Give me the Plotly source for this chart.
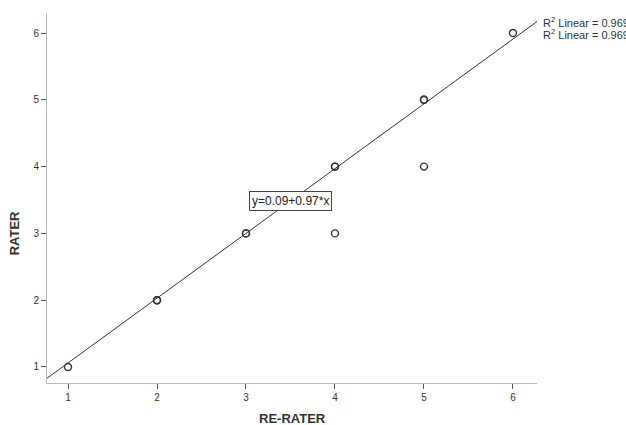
import plotly.graph_objects as go

# Data (points; duplicates represent overlapping observations)
re_rater = [1, 2, 2, 3, 3, 4, 4, 4, 5, 5, 5, 6]
rater    = [1, 2, 2, 3, 3, 4, 4, 3, 5, 5, 4, 6]

intercept = 0.09
slope = 0.97
r2_text = "R<sup>2</sup> Linear = 0.969"
eq_text = "y=0.09+0.97*x"
x_title = "RE-RATER"
y_title = "RATER"

x_range = [0.764, 6.27]
y_range = [0.76, 6.3]
x_ticks = [1, 2, 3, 4, 5, 6]
y_ticks = [1, 2, 3, 4, 5, 6]

line_x = [x_range[0], x_range[1]]
line_y = [intercept + slope * v for v in line_x]

fig = go.Figure()
fig.add_trace(go.Scatter(
    x=line_x, y=line_y, mode="lines",
    line=dict(color="#333333", width=1), showlegend=False, hoverinfo="skip"))
fig.add_trace(go.Scatter(
    x=re_rater, y=rater, mode="markers",
    marker=dict(symbol="circle-open", size=7, color="#333333", line=dict(width=1.4)),
    showlegend=False))

fig.add_annotation(x=3.5, y=3.48, xref="x", yref="y", text=eq_text, showarrow=False,
                   font=dict(family="Liberation Sans, Arial", size=12, color="#222222"),
                   bordercolor="#444444", borderwidth=1, borderpad=2, bgcolor="white")
fig.add_annotation(x=1.008, y=6.16, xref="paper", yref="y", text=r2_text, showarrow=False,
                   xanchor="left", font=dict(family="Liberation Sans, Arial", size=11, color="#333333"))
fig.add_annotation(x=1.008, y=5.99, xref="paper", yref="y", text=r2_text, showarrow=False,
                   xanchor="left", font=dict(family="Liberation Sans, Arial", size=11, color="#333333"))
fig.add_annotation(x=0.5, y=-0.095, xref="paper", yref="paper", text="<b>" + x_title + "</b>",
                   showarrow=False, xanchor="center", yanchor="middle",
                   font=dict(family="Liberation Sans, Arial", size=13, color="#333333"))
fig.add_annotation(x=-0.067, y=0.405, xref="paper", yref="paper", text="<b>" + y_title + "</b>",
                   showarrow=False, xanchor="center", yanchor="middle", textangle=-90,
                   font=dict(family="Liberation Sans, Arial", size=13, color="#333333"))

fig.update_layout(
    width=626, height=425,
    margin=dict(l=47, r=89, t=13, b=42, autoexpand=False),
    paper_bgcolor="white", plot_bgcolor="white",
    font=dict(family="Liberation Sans, Arial", size=10, color="#333333"),
)
fig.update_xaxes(
    range=x_range, tickvals=x_ticks, showgrid=False, zeroline=False,
    showline=True, linecolor="#bbbbbb", linewidth=1,
    ticks="outside", ticklen=5, tickcolor="#555555",
    tickfont=dict(size=10, color="#333333"), automargin=False,
)
fig.update_yaxes(
    range=y_range, tickvals=y_ticks, showgrid=False, zeroline=False,
    showline=True, linecolor="#bbbbbb", linewidth=1,
    ticks="outside", ticklen=5, tickcolor="#555555",
    tickfont=dict(size=10, color="#333333"), automargin=False,
)

fig.write_html("out.html")
